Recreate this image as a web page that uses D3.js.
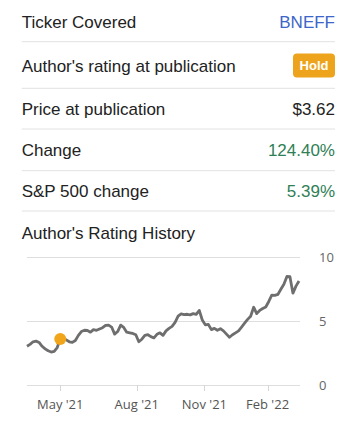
<!DOCTYPE html>
<html>
<head>
<meta charset="utf-8">
<script src="https://cdn.jsdelivr.net/npm/d3@7"></script>
<style>
  body { margin: 0; background: #fff; }
  svg { display: block; }
</style>
</head>
<body>
<svg id="chart"></svg>
<script>
// summary rows
const rowLabels = ['Ticker Covered', "Author's rating at publication", 'Price at publication', 'Change', 'S&P 500 change'];
const rowValues = ['BNEFF', 'Hold', '$3.62', '124.40%', '5.39%'];
const rowKinds = ['link', 'badge', 'plain', 'up', 'up'];

// rating history: closing prices sampled along the chart
const prices = [3.05, 3.2, 3.4, 3.45, 3.35, 3.05, 2.85, 2.7, 2.6, 2.65,
  2.95, 3.62, 3.62, 3.55, 3.4, 3.35, 3.5, 3.9, 4.2, 4.3,
  4.28, 4.15, 4.35, 4.3, 4.4, 4.5, 4.68, 4.7, 4.55, 4.0,
  4.2, 4.7, 4.52, 4.15, 4.1, 4.05, 3.95, 3.4, 3.6, 3.9,
  3.95, 3.8, 3.7, 3.98, 4.1, 3.9, 4.25, 4.45, 4.6, 4.92,
  5.4, 5.58, 5.52, 5.55, 5.5, 5.6, 5.55, 5.85, 5.1, 4.72,
  4.76, 4.35, 4.45, 4.3, 4.42, 4.25, 4.0, 3.75, 3.95, 4.1,
  4.25, 4.55, 4.85, 5.15, 5.4, 6.1, 5.6, 5.85, 6.0, 6.12,
  6.55, 7.05, 7.02, 7.1, 7.5, 7.9, 8.5, 8.48, 7.2, 7.75,
  8.15];
const ratingIndex = 11;   // sample where the Hold rating was published
const monthTicks = [11, 36.3, 58.7, 79.6];
const monthLabels = ["May '21", "Aug '21", "Nov '21", "Feb '22"];
const yTicks = [0, 5, 10];

const W = 357, H = 424;
const svg = d3.select('#chart').attr('width', W).attr('height', H);
const font = "'Liberation Sans', Arial, sans-serif";

const left = 21.7, right = 335;
const baselines = [27.5, 71.8, 115.2, 156.2, 196.8];
const separators = [41.7, 88.3, 129, 170.7, 211];

rowLabels.forEach((label, i) => {
  svg.append('text')
    .attr('x', left).attr('y', baselines[i])
    .attr('font-family', font).attr('font-size', 17)
    .attr('fill', '#222')
    .text(label);

  if (rowKinds[i] === 'badge') {
    svg.append('rect')
      .attr('x', right - 42).attr('y', 53.5)
      .attr('width', 42).attr('height', 24)
      .attr('rx', 4)
      .attr('fill', '#eda41c');
    svg.append('text')
      .attr('x', right - 21).attr('y', 70)
      .attr('text-anchor', 'middle')
      .attr('font-family', font).attr('font-size', 13).attr('font-weight', 'bold')
      .attr('fill', '#fff')
      .text(rowValues[i]);
  } else {
    const color = rowKinds[i] === 'link' ? '#3d66c8' : rowKinds[i] === 'up' ? '#2f8056' : '#222';
    svg.append('text')
      .attr('x', right).attr('y', baselines[i])
      .attr('text-anchor', 'end')
      .attr('font-family', font).attr('font-size', 17)
      .attr('fill', color)
      .text(rowValues[i]);
  }

  svg.append('line')
    .attr('x1', left).attr('x2', right)
    .attr('y1', separators[i]).attr('y2', separators[i])
    .attr('stroke', '#e2e2e2').attr('stroke-width', 1);
});

svg.append('text')
  .attr('x', left).attr('y', 238.5)
  .attr('font-family', font).attr('font-size', 17)
  .attr('fill', '#222')
  .text("Author's Rating History");

// chart
const x = d3.scaleLinear().domain([0, prices.length - 1]).range([27, 299]);
const y = d3.scaleLinear().domain([0, 10]).range([385.3, 257.3]);
const chartFont = "'Open Sans', 'DejaVu Sans', sans-serif";

svg.append('g')
  .selectAll('line')
  .data(yTicks)
  .join('line')
  .attr('x1', 27).attr('x2', 300)
  .attr('y1', d => Math.round(y(d)) + 0.5).attr('y2', d => Math.round(y(d)) + 0.5)
  .attr('stroke', '#dedede').attr('stroke-width', 1);

svg.append('g')
  .selectAll('text')
  .data(yTicks)
  .join('text')
  .attr('x', 319).attr('y', d => y(d) + 5)
  .attr('font-family', chartFont).attr('font-size', 13)
  .attr('fill', '#666')
  .text(d => d);

const xAxis = svg.append('g');
xAxis.selectAll('line')
  .data(monthTicks)
  .join('line')
  .attr('x1', d => Math.round(x(d)) + 0.5).attr('x2', d => Math.round(x(d)) + 0.5)
  .attr('y1', Math.round(y(0))).attr('y2', Math.round(y(0)) + 6)
  .attr('stroke', '#d6d6d6').attr('stroke-width', 1);
xAxis.selectAll('text')
  .data(monthTicks)
  .join('text')
  .attr('x', d => x(d)).attr('y', 409)
  .attr('text-anchor', 'middle')
  .attr('font-family', chartFont).attr('font-size', 13)
  .attr('fill', '#555')
  .text((d, i) => monthLabels[i]);

const line = d3.line()
  .x((d, i) => x(i))
  .y(d => y(d));

svg.append('path')
  .attr('d', line(prices))
  .attr('fill', 'none')
  .attr('stroke', '#6e6e6e')
  .attr('stroke-width', 2.8)
  .attr('stroke-linejoin', 'round');

svg.append('circle')
  .attr('cx', x(ratingIndex)).attr('cy', y(prices[ratingIndex]))
  .attr('r', 6)
  .attr('fill', '#f1a51a');
</script>
</body>
</html>
